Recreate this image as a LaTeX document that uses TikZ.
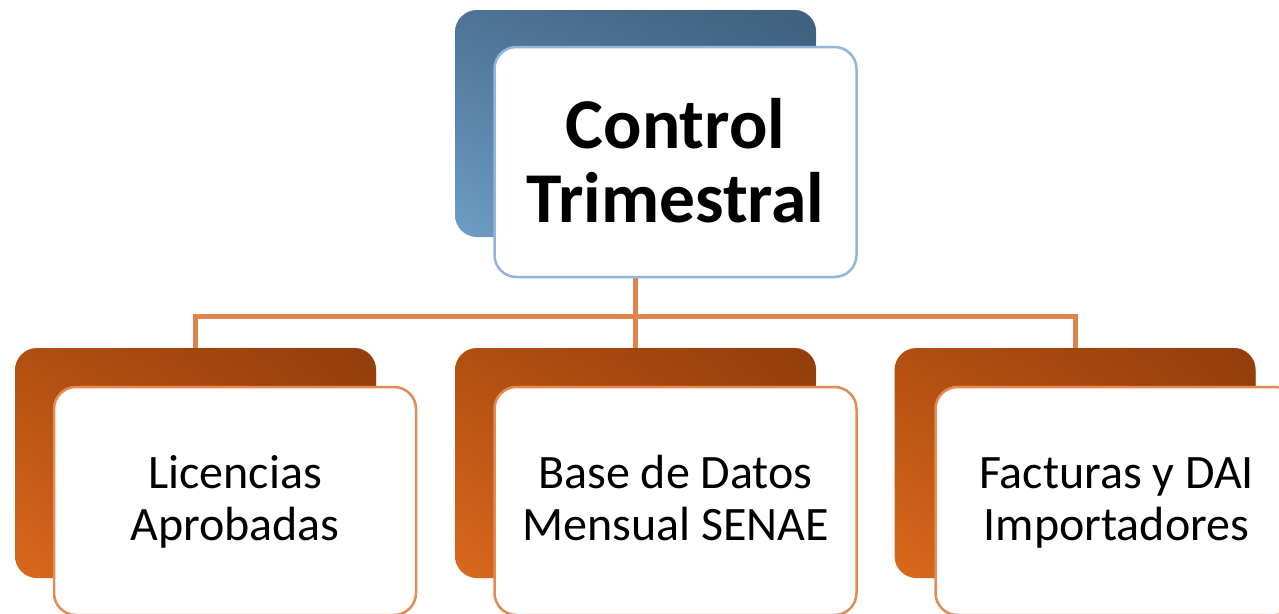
\documentclass[tikz,border=0pt]{standalone}
\usepackage{fontspec}
\setmainfont{Carlito}
\usetikzlibrary{fadings}
\definecolor{conn}{HTML}{E0834C}
\definecolor{obord}{HTML}{E48A53}
\definecolor{bbord}{HTML}{93B5DA}
\definecolor{btop}{HTML}{4E7496}
\definecolor{bbot}{HTML}{6F9EC6}
\definecolor{bdark}{HTML}{34506B}
\definecolor{otop}{HTML}{B24F12}
\definecolor{obot}{HTML}{DC691E}
\definecolor{odark}{HTML}{7A3006}
\begin{document}
\begin{tikzpicture}[x=1pt,y=-1pt,
  backbox/.style={rectangle, rounded corners=22pt, inner sep=0pt,
    minimum width=361pt, minimum height=230pt},
  bluebox/.style={backbox, top color=btop, bottom color=bbot},
  orangebox/.style={backbox, top color=otop, bottom color=obot},
  darkside/.style={rounded corners=22pt, path fading=west, fill opacity=0.55},
  frontbox/.style={rectangle, rounded corners=22pt, inner sep=0pt, fill=white,
    line width=2.5pt, minimum width=362pt, minimum height=228pt, align=center},
  topfront/.style={frontbox, draw=bbord, minimum height=230pt,
    font=\fontsize{71.5}{74}\selectfont\bfseries, text height=137pt, text depth=17pt},
  botfront/.style={frontbox, draw=obord,
    font=\fontsize{48}{52}\selectfont, text height=90pt, text depth=12pt},
  connector/.style={draw=conn, line width=5pt}]
\clip (0,0) rectangle (1279,613);
\fill[white] (0,0) rectangle (1279,613);
% back boxes
\node[bluebox, minimum height=227pt] (backTop) at (635.5,123.5) {};
\node[orangebox] (backL) at (195.5,463) {};
\node[orangebox] (backM) at (635.5,463) {};
\node[orangebox] (backR) at (1075,463) {};
\fill[bdark, darkside] (backTop.south west) rectangle (backTop.north east);
\fill[odark, darkside] (backL.south west) rectangle (backL.north east);
\fill[odark, darkside] (backM.south west) rectangle (backM.north east);
\fill[odark, darkside] (backR.south west) rectangle (backR.north east);
% connectors
\coordinate (bus) at (635.5,316);
\draw[connector] (backTop.south) -- (bus);
\draw[connector] (backL.north) |- (bus);
\draw[connector] (backR.north) |- (bus);
\draw[connector] (bus) -- (backM.north);
% front boxes
\node[topfront] (frontTop) at (675.5,162) {Control\\Trimestral};
\node[botfront] (frontL) at (235,501) {Licencias\\Aprobadas};
\node[botfront] (frontM) at (675.5,501) {Base de Datos\\Mensual SENAE};
\node[botfront] (frontR) at (1116.5,501) {Facturas y DAI\\Importadores};
\end{tikzpicture}
\end{document}
